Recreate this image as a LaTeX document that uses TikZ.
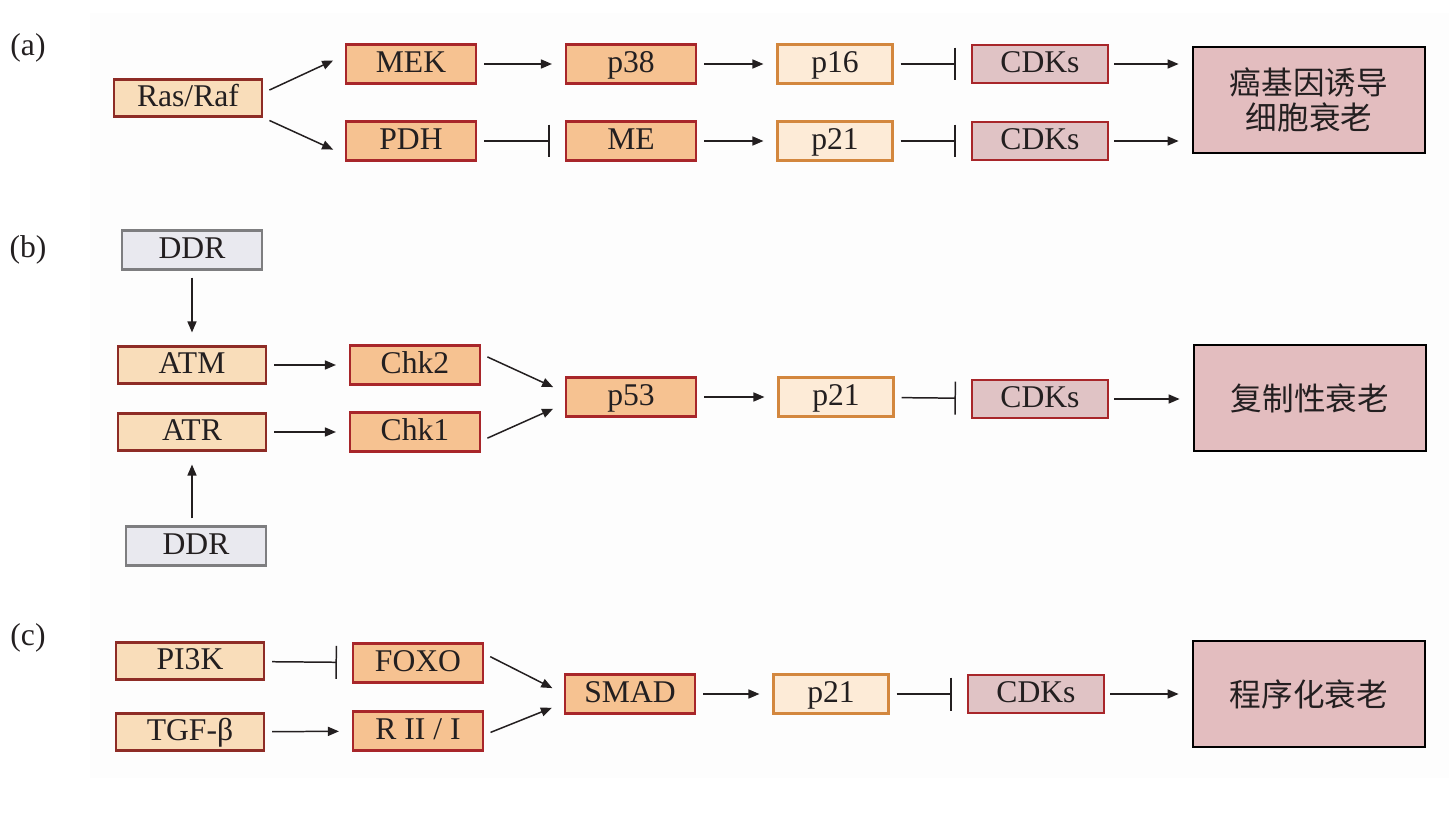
\documentclass[tikz,border=0pt]{standalone}
\usepackage{fontspec}
\setmainfont{Liberation Serif}
\newfontfamily\cjk{Noto Sans CJK SC}
\usetikzlibrary{arrows.meta}
\usetikzlibrary{calc}

\definecolor{peachL}{HTML}{F9DDBA}
\definecolor{peachM}{HTML}{F6C291}
\definecolor{peachP}{HTML}{FDEBD7}
\definecolor{roseC}{HTML}{E0C3C5}
\definecolor{roseS}{HTML}{E3BDBF}
\definecolor{grayD}{HTML}{E9E9EF}
\definecolor{edgeR}{HTML}{A8262A}
\definecolor{edgeB}{HTML}{8E2C26}
\definecolor{edgeO}{HTML}{D3873E}
\definecolor{edgeG}{HTML}{7E7E80}
\definecolor{inkT}{HTML}{231F20}
\definecolor{bgfaint}{HTML}{FDFDFD}

\begin{document}
\begin{tikzpicture}[x=0.02cm, y=-0.02cm, font=\fontsize{18}{17}\selectfont, text=inkT,
  box/.style={draw, line width=1.2pt, inner sep=0pt, text height=0.45cm, text depth=0.12cm},
  first/.style={box, fill=peachL, draw=edgeB, minimum width=2.96cm, minimum height=0.74cm},
  mid/.style={box, fill=peachM, draw=edgeR, minimum width=2.6cm, minimum height=0.78cm},
  pbox/.style={box, fill=peachP, draw=edgeO, minimum width=2.3cm, minimum height=0.78cm},
  cdk/.style={box, fill=roseC, draw=edgeR, minimum width=2.72cm, minimum height=0.76cm},
  ddr/.style={box, fill=grayD, draw=edgeG, minimum width=2.8cm, minimum height=0.78cm},
  fate/.style={draw=black, line width=1.6pt, fill=roseS, inner sep=0pt, align=center,
    minimum width=4.64cm, minimum height=2.12cm, font=\cjk\fontsize{18}{20}\selectfont},
  act/.style={-{Triangle[length=0.22cm,width=0.18cm]}, line width=0.85pt, draw=inkT,
    shorten <=0.14cm, shorten >=0.26cm},
  inh/.style={-{Bar[width=0.66cm,line width=0.85pt]}, line width=0.85pt, draw=inkT,
    shorten <=0.14cm, shorten >=0.3cm}]

  \useasboundingbox (0,0) rectangle (1455,828);
  \fill[bgfaint] (90,13) rectangle (1449,778);

    %----------------------------------------------------------
    % (a) oncogene induced senescence
    %----------------------------------------------------------
  \node (la) at (28,48) {(a)};
  \node[first] (ras) at (188,98) {Ras/Raf};
  \node[mid] (mek) at (411,64) {MEK};
  \node[mid] (pdh) at (411,141) {PDH};
  \node[mid] (p38) at (631,64) {p38};
  \node[mid] (me) at (631,141) {ME};
  \node[pbox] (p16a) at (835,64) {p16};
  \node[pbox] (p21a) at (835,141) {p21};
  \node[cdk] (cdkA1) at (1040,64) {CDKs};
  \node[cdk] (cdkA2) at (1040,141) {CDKs};
  \node[fate] (senA) at (1309,100) {癌基因诱导\\细胞衰老};

  \draw[act] ([yshift=0.1cm]ras.east) -- ([yshift=0.18cm]mek.west);
  \draw[act] (ras.south east) -- ([yshift=-0.28cm]pdh.west);
  \draw[act] (mek) -- (p38);
  \draw[inh] (pdh) -- (me);
  \draw[act] (p38) -- (p16a);
  \draw[act] (me) -- (p21a);
  \draw[inh] (p16a) -- (cdkA1);
  \draw[inh] (p21a) -- (cdkA2);
  \draw[act, shorten <=0.1cm] (cdkA1) -- (cdkA1 -| senA.west);
  \draw[act, shorten <=0.1cm] (cdkA2) -- (cdkA2 -| senA.west);

    %----------------------------------------------------------
    % (b) replicative senescence
    %----------------------------------------------------------
  \node (lb) at (28,250) {(b)};
  \node[ddr] (ddrT) at (192,250) {DDR};
  \node[first] (atm) at (192,365) {ATM};
  \node[first] (atr) at (192,432) {ATR};
  \node[ddr] (ddrB) at (196,546) {DDR};
  \node[mid] (chk2) at (415,365) {Chk2};
  \node[mid] (chk1) at (415,432) {Chk1};
  \node[mid] (p53) at (631,397) {p53};
  \node[pbox] (p21b) at (836,397) {p21};
  \node[cdk] (cdkB) at (1040,399) {CDKs};
  \node[fate] (senB) at (1310,398) {复制性衰老};

  \draw[act] (ddrT) -- (atm);
  \draw[act] (ddrB.north -| atr.south) -- (atr.south);
  \draw[act] (atm) -- (chk2);
  \draw[act] (atr) -- (chk1);
  \draw[act] ([yshift=0.22cm]chk2.east) -- ([yshift=0.09cm]p53.west);
  \draw[act] ([yshift=-0.18cm]chk1.east) -- ([yshift=-0.13cm]p53.west);
  \draw[act] (p53) -- (p21b);
  \draw[inh] (p21b) -- (cdkB);
  \draw[act, shorten <=0.1cm] (cdkB) -- (cdkB -| senB.west);

    %----------------------------------------------------------
    % (c) programmed senescence
    %----------------------------------------------------------
  \node (lc) at (28,638) {(c)};
  \node[first] (pi3k) at (190,661) {PI3K};
  \node[first] (tgf) at (190,732) {TGF-β};
  \node[mid] (foxo) at (418,663) {FOXO};
  \node[mid] (rtwo) at (418,731) {R II / I};
  \node[mid] (smad) at (630,694) {SMAD};
  \node[pbox] (p21c) at (831,694) {p21};
  \node[cdk] (cdkC) at (1036,694) {CDKs};
  \node[fate] (senC) at (1309,694) {程序化衰老};

  \draw[inh] (pi3k) -- (foxo);
  \draw[act] (tgf) -- (rtwo);
  \draw[act] ([yshift=0.19cm]foxo.east) -- (smad.west);
  \draw[act] ([yshift=-0.08cm]rtwo.east) -- ([yshift=-0.18cm]smad.west);
  \draw[act] (smad) -- (p21c);
  \draw[inh] (p21c) -- (cdkC);
  \draw[act, shorten <=0.1cm] (cdkC) -- (cdkC -| senC.west);
\end{tikzpicture}
\end{document}
